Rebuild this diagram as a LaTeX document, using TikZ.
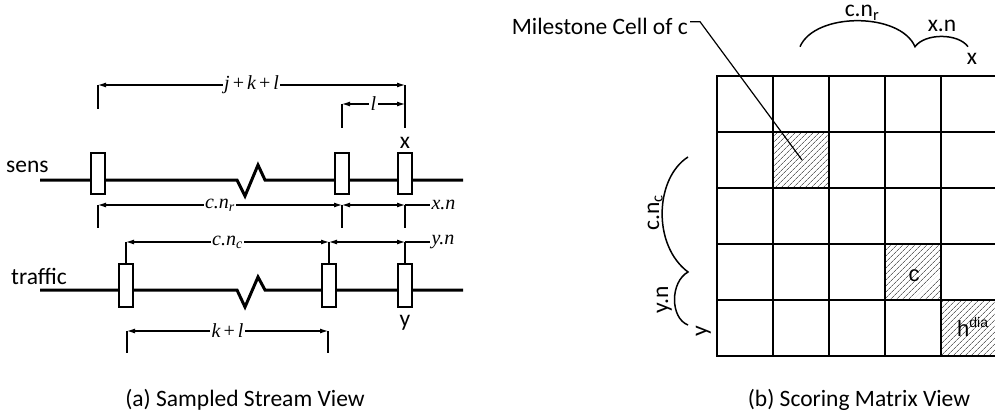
\documentclass[tikz,border=0pt]{standalone}
\usepackage{fontspec}
\setmainfont{Carlito}
\newfontfamily\tms{Liberation Serif}
\newfontfamily\arl{Liberation Sans}
\usetikzlibrary{arrows.meta,patterns.meta}
\newcommand\pl{\kern2pt+\kern2pt}
\tikzset{
  sl/.style={font=\fontsize{23.5}{27}\selectfont, inner sep=0pt},
  al/.style={font=\arl\fontsize{22}{26}\selectfont, inner sep=0pt},
  ml/.style={font=\fontsize{20}{24}\selectfont\tms\itshape, fill=white, inner sep=1.5pt},
  mlr/.style={font=\fontsize{20}{24}\selectfont\tms\itshape, inner sep=1pt},
  strm/.style={line width=3pt},
  smp/.style={draw, line width=1.2pt, fill=white, minimum width=14pt, inner sep=0pt},
  dim/.style={line width=1.1pt, {Latex[length=8pt,width=5pt]}-{Latex[length=8pt,width=5pt]}},
  ext/.style={line width=1.1pt},
  grd/.style={line width=1.8pt, line cap=rect},
  hatch/.style={pattern={Lines[angle=45,distance=4pt,line width=0.7pt]}, pattern color=black!60},
  brc/.style={line width=1.5pt},
  lead/.style={line width=1.2pt},
}
\begin{document}
\begin{tikzpicture}[x=1pt,y=-1pt]
\useasboundingbox (0,0) rectangle (995,417);

% ---------- (a) Sampled stream view ----------
\draw[strm] (40,180) -- (237,180) -- (245,196) -- (258,165) -- (265,180) -- (463,180);
\node[smp, minimum height=41pt] (s1) at (98,173.5) {};
\node[smp, minimum height=41pt] (s2) at (342,173.5) {};
\node[smp, minimum height=41pt] (s3) at (405,173.5) {};

\draw[strm] (40,290) -- (237,290) -- (245,307) -- (258,277) -- (265,290) -- (463,290);
\node[smp, minimum height=43pt] (t1) at (126,285.5) {};
\node[smp, minimum height=43pt] (t2) at (329,285.5) {};
\node[smp, minimum height=43pt] (t3) at (405,285.5) {};

\node[sl, anchor=base west] (sens) at (6,172.5) {sens};
\node[sl, anchor=base west] (traf) at (11,284) {traffic};
\node[sl, anchor=base] (xl) at (405,148) {x};
\node[sl, anchor=base] (yl) at (405,326) {y};

% j+k+l
\coordinate (jA) at (98,85);
\coordinate (jB) at (405,85);
\draw[ext] (jA) -- ++(0,24);
\draw[ext] (jB) -- ++(0,43);
\draw[dim] (jA) -- node[ml]{j\pl k\pl l} (jB);

% l
\coordinate (lA) at (342,104);
\coordinate (lB) at (405,104);
\draw[ext] (lA) -- ++(0,24);
\draw[dim] (lA) -- node[ml]{l} (lB);

% c.n_r and x.n
\coordinate (rA) at (98,205);
\coordinate (rB) at (342,205);
\coordinate (rC) at (405,205);
\coordinate (rD) at (430,205);
\draw[ext] (rA) -- ++(0,23);
\draw[ext] (rB) -- ++(0,23);
\draw[ext] (rC) -- ++(0,23);
\draw[dim] (rA) -- node[ml]{c.n\textsubscript{r}} (rB);
\draw[dim] (rB) -- (rC);
\draw[ext] (rC) -- (rD) node[mlr, anchor=west] (xn) {x.n};

% c.n_c and y.n
\coordinate (cA) at (126,242);
\coordinate (cB) at (329,242);
\coordinate (cC) at (405,242);
\coordinate (cD) at (430,242);
\draw[ext] (t1.north) -- (cA);
\draw[ext] (t2.north) -- (cB);
\draw[ext] (t3.north) -- (cC);
\draw[dim] (cA) -- node[ml]{c.n\textsubscript{c}} (cB);
\draw[dim] (cB) -- (cC);
\draw[ext] (cC) -- (cD) node[mlr, anchor=west] (yn) {y.n};

% k+l
\coordinate (kA) at (127,331);
\coordinate (kB) at (328,331);
\draw[ext] (kA) -- ++(0,22);
\draw[ext] (kB) -- ++(0,22);
\draw[dim] (kA) -- node[ml]{k\pl l} (kB);

\node[sl, anchor=base] (capa) at (245,406) {(a) Sampled Stream View};

% ---------- (b) Scoring matrix view ----------
\fill[hatch] (773,131.7) rectangle (829,187.7);
\fill[hatch] (885,243.7) rectangle (941,299.7);
\fill[hatch] (941,299.7) rectangle (997,355.7);
\foreach \i in {0,...,5} {
  \draw[grd] (717+56*\i,75.7) -- (717+56*\i,355.7);
  \draw[grd] (717,75.7+56*\i) -- (997,75.7+56*\i);
}
\node[al, anchor=base] (cc) at (914,281) {c};
\node[al, anchor=base west] (hd) at (957,336) {h\raisebox{9pt}{\fontsize{14}{16}\selectfont dia}};

% milestone leader
\node[sl, anchor=base east] (ms) at (688,35) {Milestone Cell of c};
\coordinate (m0) at (690,21.7);
\coordinate (m1) at (700,21.7);
\coordinate (mile) at (802,160);
\draw[lead] (m0) -- (m1) -- (mile);

% top braces
\coordinate (a1) at (800,46.7);
\coordinate (a2) at (915,46.7);
\coordinate (a3) at (968,46.7);
\draw[brc] (a1) .. controls (815,12) and (900,12) .. (a2) .. controls (925,33) and (958,33) .. (a3);
\node[sl, anchor=base] (cnr) at (862,17) {c.n\textsubscript{r}};
\node[sl, anchor=base] (xnb) at (942,32) {x.n};
\node[sl, anchor=base] (xb) at (972,65) {x};

% left braces
\coordinate (b1) at (688,157);
\coordinate (b2) at (688,272);
\coordinate (b3) at (688,325);
\draw[brc] (b1) .. controls (655,178) and (652,245) .. (b2) .. controls (670,282) and (670,318) .. (b3);
\node[sl, rotate=90, anchor=base] (cnc) at (659,213) {c.n\textsubscript{c}};
\node[sl, rotate=90, anchor=base] (ynb) at (668,300) {y.n};
\node[sl, rotate=90, anchor=base] (yb) at (707,331) {y};

\node[sl, anchor=base] (capb) at (859,406) {(b) Scoring Matrix View};
\end{tikzpicture}
\end{document}
